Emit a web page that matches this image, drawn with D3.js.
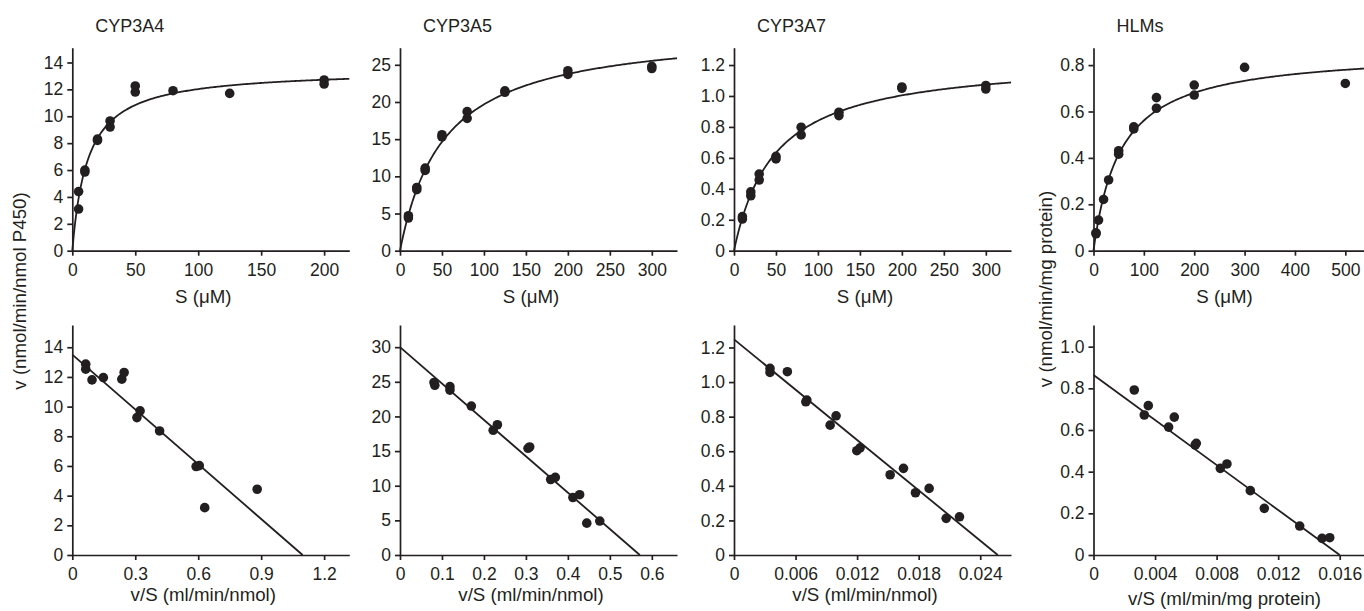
<!DOCTYPE html>
<html>
<head>
<meta charset="utf-8">
<script src="https://cdn.jsdelivr.net/npm/d3@7/dist/d3.min.js"></script>
<style>
  body { margin: 0; background: #fff; }
  svg { display: block; font-family: "Liberation Sans", Arial, Helvetica, sans-serif; }
  .axis path, .axis line { stroke: #231f20; stroke-width: 1.7; }
  .axis text { fill: #231f20; font-size: 17.5px; font-family: "Liberation Sans", Arial, sans-serif; }
  .title { font-size: 18px; fill: #231f20; }
  .label { font-size: 18.7px; fill: #231f20; }
  .fit { fill: none; stroke: #231f20; stroke-width: 1.8; }
  .dot { fill: #231f20; }
</style>
</head>
<body>
<svg id="chart" width="1364" height="611"></svg>
<script>
const titles = ['CYP3A4', 'CYP3A5', 'CYP3A7', 'HLMs'];

// Michaelis-Menten plots (S in uM, v)
const s3A4 = [5, 5, 10, 10, 20, 20, 30, 30, 50, 50, 80, 125, 200, 200];
const v3A4 = [4.4, 3.1, 6.0, 5.85, 8.3, 8.2, 9.65, 9.2, 12.25, 11.8, 11.9, 11.7, 12.7, 12.4];
const s3A5 = [10, 10, 20, 20, 30, 30, 50, 50, 80, 80, 125, 125, 200, 200, 300, 300];
const v3A5 = [4.7, 4.4, 8.5, 8.2, 11.1, 10.8, 15.6, 15.3, 18.7, 17.8, 21.5, 21.3, 24.2, 23.7, 24.8, 24.5];
const s3A7 = [10, 10, 20, 20, 30, 30, 50, 50, 80, 80, 125, 125, 200, 200, 300, 300];
const v3A7 = [0.22, 0.205, 0.38, 0.355, 0.495, 0.457, 0.61, 0.593, 0.798, 0.748, 0.895, 0.873, 1.058, 1.05, 1.068, 1.045];
const sHLM = [5, 5, 10, 20, 30, 50, 50, 80, 80, 125, 125, 200, 200, 300, 500];
const vHLM = [0.077, 0.073, 0.132, 0.221, 0.305, 0.431, 0.416, 0.534, 0.525, 0.66, 0.614, 0.714, 0.671, 0.79, 0.721];

// Eadie-Hofstee plots (v/S, v)
const ehX3A4 = [0.064, 0.064, 0.094, 0.148, 0.236, 0.247, 0.308, 0.323, 0.416, 0.59, 0.605, 0.631, 0.881];
const ehY3A4 = [12.86, 12.52, 11.8, 11.96, 11.85, 12.3, 9.26, 9.71, 8.36, 5.96, 6.02, 3.19, 4.43];
const ehX3A5 = [0.081, 0.083, 0.119, 0.119, 0.170, 0.222, 0.232, 0.305, 0.309, 0.359, 0.370, 0.412, 0.428, 0.445, 0.476];
const ehY3A5 = [24.9, 24.5, 24.3, 23.8, 21.5, 18.0, 18.8, 15.4, 15.6, 10.9, 11.2, 8.3, 8.7, 4.6, 4.9];
const ehX3A7 = [0.00351, 0.00351, 0.0052, 0.0070, 0.0071, 0.00937, 0.00995, 0.01197, 0.01229, 0.01522, 0.01652, 0.01769, 0.01902, 0.02068, 0.02198];
const ehY3A7 = [1.079, 1.056, 1.06, 0.886, 0.896, 0.751, 0.805, 0.603, 0.62, 0.464, 0.501, 0.36, 0.385, 0.212, 0.221];
const ehXHLM = [0.00265, 0.0033, 0.00356, 0.00488, 0.00525, 0.00661, 0.00668, 0.00824, 0.00867, 0.01019, 0.0111, 0.0134, 0.01485, 0.01535];
const ehYHLM = [0.792, 0.672, 0.717, 0.614, 0.662, 0.528, 0.536, 0.416, 0.437, 0.309, 0.224, 0.139, 0.08, 0.083];

// fitted kinetic parameters
const vmax = [13.5, 30, 1.247, 0.864];
const km = [12.3, 52.5, 48.5, 54];

// axis domains
const mmXMax = [220, 330, 330, 550];
const mmYMax = [15.1, 27.3, 1.312, 0.875];
const ehXMax = [1.32, 0.66, 0.027, 0.018];
const ehYMax = [15.5, 33.2, 1.33, 1.104];

// ticks
const mmXTicks = [[0, 50, 100, 150, 200], [0, 50, 100, 150, 200, 250, 300], [0, 50, 100, 150, 200, 250, 300], [0, 100, 200, 300, 400, 500]];
const mmYTicks = [[0, 2, 4, 6, 8, 10, 12, 14], [0, 5, 10, 15, 20, 25], [0, 0.2, 0.4, 0.6, 0.8, 1.0, 1.2], [0, 0.2, 0.4, 0.6, 0.8]];
const mmYLabels = [
  ['0', '2', '4', '6', '8', '10', '12', '14'],
  ['0', '5', '10', '15', '20', '25'],
  ['0', '0.2', '0.4', '0.6', '0.8', '1.0', '1.2'],
  ['0', '0.2', '0.4', '0.6', '0.8']
];
const ehXTicks = [[0, 0.3, 0.6, 0.9, 1.2], [0, 0.1, 0.2, 0.3, 0.4, 0.5, 0.6], [0, 0.006, 0.012, 0.018, 0.024], [0, 0.004, 0.008, 0.012, 0.016]];
const ehXLabels = [
  ['0', '0.3', '0.6', '0.9', '1.2'],
  ['0', '0.1', '0.2', '0.3', '0.4', '0.5', '0.6'],
  ['0', '0.006', '0.012', '0.018', '0.024'],
  ['0', '0.004', '0.008', '0.012', '0.016']
];
const ehYTicks = [[0, 2, 4, 6, 8, 10, 12, 14], [0, 5, 10, 15, 20, 25, 30], [0, 0.2, 0.4, 0.6, 0.8, 1.0, 1.2], [0, 0.2, 0.4, 0.6, 0.8, 1.0]];
const ehYLabels = [
  ['0', '2', '4', '6', '8', '10', '12', '14'],
  ['0', '5', '10', '15', '20', '25', '30'],
  ['0', '0.2', '0.4', '0.6', '0.8', '1.0', '1.2'],
  ['0', '0.2', '0.4', '0.6', '0.8', '1.0']
];
const ehXTitles = ['v/S (ml/min/nmol)', 'v/S (ml/min/nmol)', 'v/S (ml/min/nmol)', 'v/S (ml/min/mg protein)'];

const mmData = [[s3A4, v3A4], [s3A5, v3A5], [s3A7, v3A7], [sHLM, vHLM]];
const ehData = [[ehX3A4, ehY3A4], [ehX3A5, ehY3A5], [ehX3A7, ehY3A7], [ehXHLM, ehYHLM]];

// layout
const colX = [72.3, 400, 734, 1093.5];
const plotW = 277;
const topRow = { y0: 250.7, y1: 47.7 };
const botRow = { y0: 555, y1: 325 };

const svg = d3.select('#chart');

function drawPanel(i, row, xMax, yMax, xTicks, xLabels, yTicks, yLabels, pts) {
  const x = d3.scaleLinear().domain([0, xMax]).range([colX[i], colX[i] + plotW]);
  const y = d3.scaleLinear().domain([0, yMax]).range([row.y0, row.y1]);

  svg.append('g')
    .attr('class', 'axis')
    .attr('transform', `translate(0,${row.y0})`)
    .call(d3.axisBottom(x)
      .tickValues(xTicks)
      .tickFormat((d, k) => xLabels[k])
      .tickSize(5).tickSizeOuter(0).tickPadding(8));

  svg.append('g')
    .attr('class', 'axis')
    .attr('transform', `translate(${colX[i]},0)`)
    .call(d3.axisLeft(y)
      .tickValues(yTicks)
      .tickFormat((d, k) => yLabels[k])
      .tickSize(5).tickSizeOuter(0).tickPadding(4));

  svg.selectAll(null)
    .data(pts[0].map((d, k) => [d, pts[1][k]]))
    .enter()
    .append('circle')
    .attr('class', 'dot')
    .attr('cx', d => x(d[0]))
    .attr('cy', d => y(d[1]))
    .attr('r', 4.8);

  return { x, y };
}

for (let i = 0; i < 4; i++) {
  // Michaelis-Menten panel
  const mmXLabels = mmXTicks[i].map(String);
  const top = drawPanel(i, topRow, mmXMax[i], mmYMax[i], mmXTicks[i], mmXLabels, mmYTicks[i], mmYLabels[i], mmData[i]);

  const curve = d3.range(0, mmXMax[i] + 0.001, mmXMax[i] / 200)
    .map(s => [s, vmax[i] * s / (km[i] + s)]);
  svg.append('path')
    .attr('class', 'fit')
    .attr('d', d3.line().x(d => top.x(d[0])).y(d => top.y(d[1]))(curve));

  svg.append('text')
    .attr('class', 'title')
    .attr('x', colX[i] + 23)
    .attr('y', 32)
    .text(titles[i]);

  svg.append('text')
    .attr('class', 'label')
    .attr('x', colX[i] + 131)
    .attr('y', 303)
    .attr('text-anchor', 'middle')
    .text('S (\u03bcM)');

  // Eadie-Hofstee panel
  const bot = drawPanel(i, botRow, ehXMax[i], ehYMax[i], ehXTicks[i], ehXLabels[i], ehYTicks[i], ehYLabels[i], ehData[i]);

  const ends = [[0, vmax[i]], [vmax[i] / km[i], 0]];
  svg.append('path')
    .attr('class', 'fit')
    .attr('d', d3.line().x(d => bot.x(d[0])).y(d => bot.y(d[1]))(ends));

  svg.append('text')
    .attr('class', 'label')
    .attr('x', colX[i] + 131)
    .attr('y', i === 3 ? 605 : 601)
    .attr('text-anchor', 'middle')
    .text(ehXTitles[i]);
}

// shared y-axis titles
svg.append('text')
  .attr('class', 'label')
  .attr('transform', 'translate(26,291) rotate(-90)')
  .attr('text-anchor', 'middle')
  .text('v (nmol/min/nmol P450)');

svg.append('text')
  .attr('class', 'label')
  .attr('transform', 'translate(1052,289) rotate(-90)')
  .attr('text-anchor', 'middle')
  .text('v (nmol/min/mg protein)');
</script>
</body>
</html>
